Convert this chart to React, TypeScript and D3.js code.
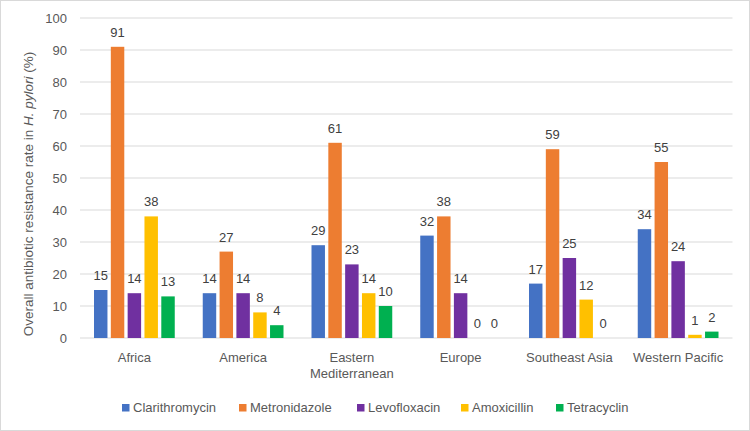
import React from "react";
import * as d3 from "d3";

const regions = ["Africa", "America", "Eastern Mediterranean", "Europe", "Southeast Asia", "Western Pacific"];
const regionLines = [["Africa"], ["America"], ["Eastern", "Mediterranean"], ["Europe"], ["Southeast Asia"], ["Western Pacific"]];
const seriesNames = ["Clarithromycin", "Metronidazole", "Levofloxacin", "Amoxicillin", "Tetracyclin"];
const clarithromycin = [15, 14, 29, 32, 17, 34];
const metronidazole = [91, 27, 61, 38, 59, 55];
const levofloxacin = [14, 14, 23, 14, 25, 24];
const amoxicillin = [38, 8, 14, 0, 12, 1];
const tetracyclin = [13, 4, 10, 0, 0, 2];
const yTicks = [0, 10, 20, 30, 40, 50, 60, 70, 80, 90, 100];
const colors = ["#4472C4", "#ED7D31", "#7030A0", "#FFC000", "#00B050"];

const seriesValues = [clarithromycin, metronidazole, levofloxacin, amoxicillin, tetracyclin];

export default function App() {
  const W = 750, H = 431;
  const left = 80, right = 732.5, top = 18, bottom = 338;
  const x = d3.scaleBand<string>().domain(regions).range([left, right]);
  const inner = d3.scaleBand<string>().domain(seriesNames).range([14, x.bandwidth() - 14]).paddingInner(0.2);
  const y = d3.scaleLinear().domain([0, 100]).range([bottom, top]);
  const font = "'Liberation Sans', Arial, sans-serif";
  const legendX = [126, 243, 361, 465, 560];

  return (
    <svg width={W} height={H} style={{ position: "absolute", left: 0, top: 0, background: "#fff" }} fontFamily={font}>
      <rect x={0.5} y={0.5} width={W - 1} height={H - 1} fill="#fff" stroke="#D9D9D9" />
      {yTicks.map((t) => (
        <g key={t}>
          <line x1={left} x2={right} y1={y(t)} y2={y(t)} stroke="#D9D9D9" strokeWidth={1} />
          <text x={67} y={y(t)} dy="0.35em" textAnchor="end" fontSize={13} fill="#595959">{t}</text>
        </g>
      ))}
      {seriesValues.map((vals, si) =>
        vals.map((v, ci) => {
          const bx = (x(regions[ci]) as number) + (inner(seriesNames[si]) as number);
          const bw = inner.bandwidth();
          return (
            <g key={`${si}-${ci}`}>
              {v > 0 && <rect x={bx} y={y(v)} width={bw} height={bottom - y(v)} fill={colors[si]} />}
              <text x={bx + bw / 2} y={y(v) - 10} textAnchor="middle" fontSize={13} fill="#404040">{v}</text>
            </g>
          );
        })
      )}
      {regions.map((r, i) => (
        <text key={r} x={(x(r) as number) + x.bandwidth() / 2} y={362} textAnchor="middle" fontSize={13} fill="#595959">
          {regionLines[i].map((l, j) => (
            <tspan key={j} x={(x(r) as number) + x.bandwidth() / 2} dy={j === 0 ? 0 : 16}>{l}</tspan>
          ))}
        </text>
      ))}
      <text transform={`translate(33,194) rotate(-90)`} textAnchor="middle" fontSize={13.5} fill="#595959">
        Overall antibiotic resistance rate in <tspan fontStyle="italic">H. pylori</tspan> (%)
      </text>
      {seriesNames.map((s, i) => (
        <g key={s}>
          <rect x={legendX[i] - 4} y={404} width={7.5} height={7.5} fill={colors[i]} />
          <text x={legendX[i] + 7} y={407.5} dy="0.35em" fontSize={13} fill="#595959">{s}</text>
        </g>
      ))}
    </svg>
  );
}
